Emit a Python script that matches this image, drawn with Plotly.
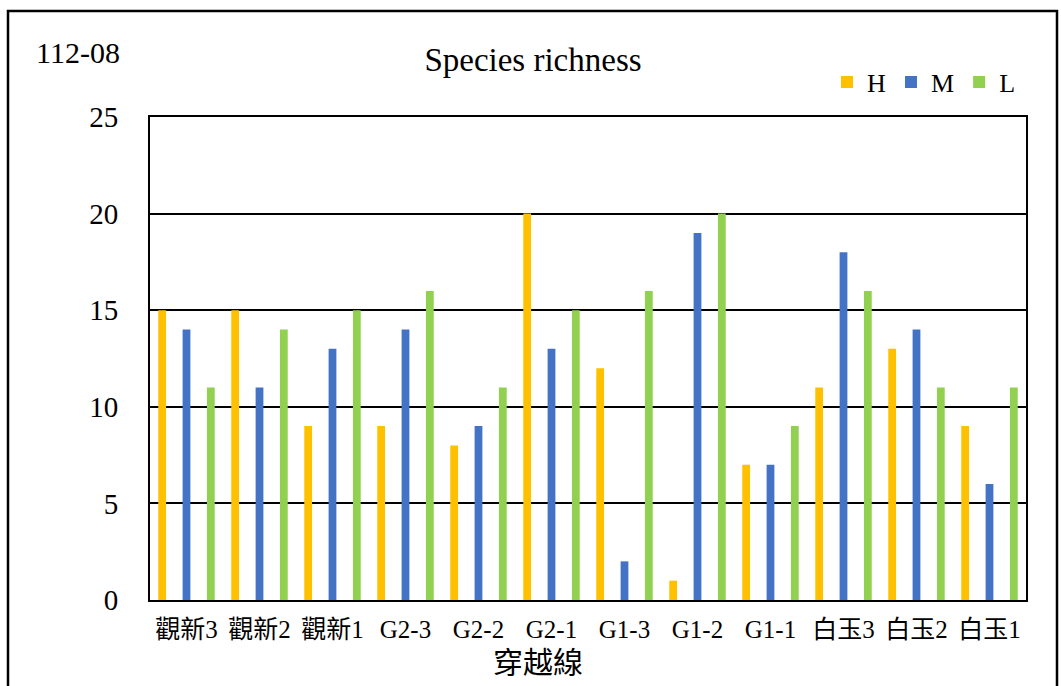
import plotly.graph_objects as go

categories = ["觀新3", "觀新2", "觀新1", "G2-3", "G2-2", "G2-1", "G1-3", "G1-2", "G1-1", "白玉3", "白玉2", "白玉1"]
H_values = [15, 15, 9, 9, 8, 20, 12, 1, 7, 11, 13, 9]
M_values = [14, 11, 13, 14, 9, 13, 2, 19, 7, 18, 14, 6]
L_values = [11, 14, 15, 16, 11, 15, 16, 20, 9, 16, 11, 11]
y_ticks = [0, 5, 10, 15, 20, 25]

FONT = "Liberation Serif, Times New Roman, Noto Sans CJK TC, serif"

fig = go.Figure()
fig.add_trace(go.Bar(name="H", x=categories, y=H_values, marker=dict(color="#FFC000", line_width=0)))
fig.add_trace(go.Bar(name="M", x=categories, y=M_values, marker=dict(color="#4472C4", line_width=0)))
fig.add_trace(go.Bar(name="L", x=categories, y=L_values, marker=dict(color="#92D050", line_width=0)))

W, H = 1061, 686
L_PX, R_PX, T_PX, B_PX = 150, 1026, 117, 600
pw, ph = R_PX - L_PX, B_PX - T_PX

def px_x(x):
    return (x - L_PX) / pw

def px_y(y):
    return (B_PX - y) / ph

fig.update_layout(
    width=W, height=H,
    margin=dict(l=L_PX, r=W - R_PX, t=T_PX, b=H - B_PX, autoexpand=False),
    paper_bgcolor="white", plot_bgcolor="white",
    barmode="group", bargap=0.0, bargroupgap=0.68,
    font=dict(family=FONT, color="#000000", size=20),
    title=dict(text="Species richness", x=533 / W, xanchor="center", y=1 - 59 / H, yanchor="middle",
               font=dict(family=FONT, size=33, color="#000000")),
    showlegend=True,
    legend=dict(orientation="h", x=px_x(1021), xanchor="right", y=px_y(82), yanchor="middle",
                font=dict(family=FONT, size=26, color="#000000"), bgcolor="rgba(0,0,0,0)",
                itemwidth=30, tracegroupgap=0),
    xaxis=dict(
        showline=True, linecolor="black", linewidth=2, mirror=True,
        tickfont=dict(family=FONT, size=25, color="#000000"),
        ticks="", ticklabelstandoff=6,
    ),
    yaxis=dict(
        range=[0, 25], tickvals=y_ticks, showgrid=True, gridcolor="black", gridwidth=2,
        showline=True, linecolor="black", linewidth=2, mirror=True, zeroline=False,
        tickfont=dict(family=FONT, size=29, color="#000000"), ticks="", ticklabelstandoff=24,
    ),
    annotations=[
        dict(text="112-08", xref="paper", yref="paper", x=px_x(78), y=px_y(52),
             xanchor="center", yanchor="middle", showarrow=False,
             font=dict(family=FONT, size=30, color="#000000")),
        dict(text="穿越線", xref="paper", yref="paper", x=px_x(538), y=px_y(662),
             xanchor="center", yanchor="middle", showarrow=False,
             font=dict(family=FONT, size=30, color="#000000")),
    ],
    shapes=[dict(type="rect", xref="paper", yref="paper", x0=px_x(8), x1=px_x(1057),
                 y0=px_y(720), y1=px_y(11), line=dict(color="black", width=2.5), layer="above")],
)

fig.write_html("out.html", config={"displayModeBar": False},
               post_script="document.body.style.margin='0';document.body.style.overflow='hidden';")
